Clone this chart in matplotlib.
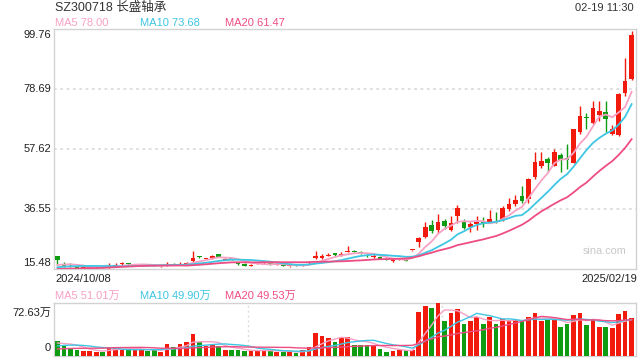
#!/usr/bin/env python3
"""
Daily candlestick chart for SZ300718 with MA lines and volume panel.
"""

import numpy as np
import pandas as pd
import matplotlib

matplotlib.use("Agg")
import matplotlib.pyplot as plt

plt.rcParams["font.family"] = ["Liberation Sans", "Noto Sans CJK SC", "DejaVu Sans"]

# closes of the 19 sessions before the first visible one (only used for the MAs)
prior_closes = [15.2, 15.1, 15.0, 14.9, 14.8, 14.7, 14.6, 14.6, 14.7, 14.8,
                14.9, 15.0, 15.2, 15.5, 15.8, 16.0, 16.3, 16.6, 17.2]
prior_vols = [6, 6, 5, 5, 5, 6, 5, 5, 6, 6, 7, 7, 8, 12, 15, 18, 14, 16, 20]

opens = [19.9, 17.4, 17.0, 16.4, 15.8, 15.9, 15.7, 16.1, 16.1, 16.6,
         17.1, 17.3, 16.8, 16.9, 16.9, 16.7, 16.4, 16.7, 17.4, 17.0,
         17.3, 18.2, 19.7, 19.1, 19.2, 20.7, 18.8, 19.1, 17.6, 17.3,
         16.7, 17.3, 17.5, 17.5, 17.0, 17.1, 16.4, 16.9, 16.6, 17.5,
         19.2, 19.2, 20.2, 21.0, 20.4, 21.6, 21.7, 21.3, 20.5, 19.7,
         19.6, 19.1, 18.2, 18.9, 19.3, 22.0, 24.9, 26.8, 30.9, 29.2,
         32.4, 29.3, 34.0, 32.0, 30.4, 31.2, 31.9, 32.0, 32.4, 32.7,
         36.6, 38.3, 41.1, 40.2, 47.7, 51.8, 54.1, 51.8, 55.4, 54.3,
         52.8, 63.7, 68.8, 66.9, 69.6, 70.5, 63.0, 62.5, 77.4, 82.1]
highs = [20.1, 18.0, 17.6, 16.8, 16.4, 16.2, 16.1, 16.3, 17.6, 17.5,
         17.8, 17.5, 17.2, 17.4, 17.1, 16.9, 16.7, 17.9, 17.6, 17.9,
         17.8, 21.7, 20.1, 19.5, 20.3, 20.9, 19.3, 19.4, 17.9, 17.5,
         17.2, 17.8, 18.4, 17.7, 17.3, 17.2, 16.6, 17.1, 17.2, 18.2,
         21.9, 20.9, 21.2, 21.2, 21.5, 23.4, 22.0, 21.7, 20.7, 20.6,
         19.9, 19.3, 19.0, 19.5, 19.5, 22.08, 26.6, 31.9, 32.6, 34.8,
         32.9, 34.2, 38.0, 33.0, 32.1, 34.2, 33.6, 36.2, 35.5, 37.6,
         40.5, 41.4, 44.6, 47.5, 56.7, 56.7, 54.8, 57.6, 56.1, 59.4,
         64.6, 72.7, 70.1, 74.5, 74.5, 74.5, 66.1, 77.4, 89.5, 99.0]
lows = [17.0, 16.3, 16.3, 15.5, 15.6, 15.7, 15.6, 15.8, 16.0, 16.4,
        16.6, 17.0, 16.7, 16.8, 16.6, 16.4, 16.3, 16.5, 16.9, 16.9,
        17.1, 17.9, 19.3, 18.9, 19.0, 19.6, 18.6, 18.8, 17.0, 16.4,
        16.5, 17.2, 17.3, 16.9, 16.8, 16.4, 16.2, 16.7, 16.4, 17.4,
        19.0, 19.0, 20.0, 20.2, 20.2, 21.5, 21.4, 20.9, 19.8, 19.5,
        18.9, 18.5, 18.1, 18.7, 18.2, 21.9, 23.3, 26.4, 28.0, 28.0,
        29.7, 28.9, 31.6, 29.5, 28.4, 29.1, 30.4, 31.8, 31.7, 32.2,
        36.0, 37.5, 38.5, 38.5, 47.0, 51.0, 49.6, 51.5, 49.7, 50.5,
        52.6, 62.8, 64.6, 66.5, 67.5, 63.6, 62.4, 62.3, 76.4, 81.8]
closes = [18.6, 16.5, 16.8, 15.6, 16.1, 16.0, 15.9, 16.0, 16.6, 17.0,
          17.3, 17.2, 16.9, 17.0, 16.8, 16.5, 16.5, 17.0, 17.0, 17.2,
          17.5, 19.4, 19.6, 19.2, 19.9, 19.8, 18.9, 19.0, 17.1, 16.6,
          16.9, 17.5, 17.7, 17.0, 17.1, 16.5, 16.4, 16.8, 17.0, 17.8,
          19.9, 19.9, 20.5, 20.3, 20.8, 21.7, 21.6, 21.0, 20.0, 19.8,
          19.0, 18.6, 18.3, 19.2, 18.4, 22.08, 26.2, 30.2, 28.8, 32.0,
          30.7, 31.8, 36.9, 30.0, 31.2, 32.0, 31.4, 33.0, 31.9, 37.0,
          38.3, 39.7, 39.5, 47.1, 53.0, 53.4, 52.8, 56.6, 53.8, 53.6,
          64.5, 69.2, 68.5, 71.9, 71.0, 68.0, 64.5, 77.0, 81.5, 97.5]
# volume in 万 shares
volumes = [21.1, 14.1, 10.8, 8.4, 7.0, 7.0, 5.6, 6.1, 12.7, 12.7,
           8.9, 8.9, 9.4, 8.9, 7.0, 8.4, 5.6, 16.4, 12.7, 16.4,
           19.7, 29.5, 18.7, 14.1, 15.5, 14.1, 8.4, 8.4, 8.0, 7.0,
           7.0, 7.0, 8.9, 7.0, 5.6, 5.6, 5.6, 4.2, 8.4, 11.7,
           31.9, 27.6, 24.4, 19.7, 24.4, 26.7, 15.5, 15.5, 15.5, 14.1,
           9.8, 5.6, 7.0, 8.4, 8.0, 8.0, 60.9, 68.9, 65.6, 72.63,
           47.8, 59.5, 64.2, 43.6, 47.8, 53.9, 43.6, 53.9, 43.6, 50.1,
           49.2, 50.0, 49.0, 53.9, 58.6, 48.0, 49.0, 49.0, 40.0, 43.6,
           56.2, 59.5, 43.0, 49.0, 40.0, 40.0, 38.8, 57.6, 61.8, 52.2]

price_ticks = [99.76, 78.69, 57.62, 36.55, 15.48]
vol_top = 72.63
title = "SZ300718 长盛轴承"
stamp = "02-19 11:30"
date_first, date_last = "2024/10/08", "2025/02/19"
ma_labels = [("MA5 78.00", "#f7a1c4"), ("MA10 73.68", "#3ec6e3"), ("MA20 61.47", "#ee4d83")]
vol_ma_labels = [("MA5 51.01万", "#f7a1c4"), ("MA10 49.90万", "#3ec6e3"), ("MA20 49.53万", "#ee4d83")]

RED = "#f21a0c"
GREEN = "#0f9c12"
GRID = "#dcdcdc"
EDGE = "#d2d2d2"
TEXT = "#222222"


def moving_averages(prior, values, windows):
    s = pd.Series(list(prior) + list(values), dtype=float)
    n = len(prior)
    return [s.rolling(w, min_periods=1).mean().to_numpy()[n:] for w in windows]


def style_panel(ax):
    for sp in ax.spines.values():
        sp.set_color(EDGE)
        sp.set_linewidth(1.0)
    ax.set_xticks([])
    ax.set_yticks([])


def main() -> None:
    o = np.array(opens)
    h = np.array(highs)
    lo = np.array(lows)
    c = np.array(closes)
    v = np.array(volumes)
    x = np.arange(len(c))
    up = c >= o
    colors = np.where(up, RED, GREEN)

    fig = plt.figure(figsize=(6.4, 3.6), dpi=100)
    W, H = 640.0, 360.0
    ax = fig.add_axes([54 / W, 1 - 269 / H, 582 / W, 240 / H])
    axv = fig.add_axes([54 / W, 1 - 356 / H, 582 / W, 53 / H])
    xlim = (-0.54, len(c) - 1 + 0.68)

    # price panel
    for t in price_ticks[1:-1]:
        ax.axhline(t, color=GRID, lw=1.3, ls=(0, (1.5, 2.0)), zorder=0)
    ax.vlines(x, lo, h, colors=colors, lw=1.0, zorder=3)
    body = np.maximum(np.abs(c - o), 0.35)
    ax.bar(x, body, bottom=np.minimum(o, c), width=0.72, color=colors, lw=0, zorder=4)

    mas = moving_averages(prior_closes, closes, [5, 10, 20])
    for m, (_, col) in zip(mas, ma_labels):
        ax.plot(x, m, color=col, lw=1.3, zorder=5)
    ax.set_xlim(*xlim)
    ax.set_ylim(price_ticks[-1], price_ticks[0])
    style_panel(ax)
    ax.text(0.983, 0.075, "sina.com", transform=ax.transAxes, ha="right", va="center",
            fontsize=7.8, color="#c8c8c8")

    # volume panel
    axv.bar(x, v, width=0.72, color=colors, lw=0, zorder=3)
    vmas = moving_averages(prior_vols, volumes, [5, 10, 20])
    for m, (_, col) in zip(vmas, vol_ma_labels):
        axv.plot(x, m, color=col, lw=1.0, zorder=4)
    span = xlim[1] - xlim[0]
    for k in (1, 2):
        axv.axvline(xlim[0] + span * k / 3, color=GRID, lw=1.0, ls=(0, (1.5, 2.0)), zorder=0)
    axv.set_xlim(*xlim)
    axv.set_ylim(0, vol_top)
    style_panel(axv)

    def put(px, py, s, **kw):
        kw.setdefault("color", TEXT)
        kw.setdefault("fontsize", 8)
        fig.text(px / W, 1 - py / H, s, **kw)

    put(55, 8, title, fontsize=9, va="center", ha="left", color="#333333")
    put(634, 8, stamp, fontsize=8, va="center", ha="right", color="#333333")
    for (s, col), px in zip(ma_labels, [55, 140, 225]):
        put(px, 23, s, color=col, va="center", ha="left")
    for (s, col), px in zip(vol_ma_labels, [55, 140, 225]):
        put(px, 296, s, color=col, va="center", ha="left")

    tick_y = [35, 89, 149, 209, 263]
    for t, py in zip(price_ticks, tick_y):
        put(51, py, f"{t:.2f}", va="center", ha="right")
    put(51, 313, f"{vol_top:.2f}万", va="center", ha="right")
    put(51, 348, "0", va="center", ha="right")
    put(55, 279, date_first, va="center", ha="left")
    put(637, 279, date_last, va="center", ha="right")

    fig.savefig("out.png", dpi=100)
    plt.close(fig)


if __name__ == "__main__":
    main()
